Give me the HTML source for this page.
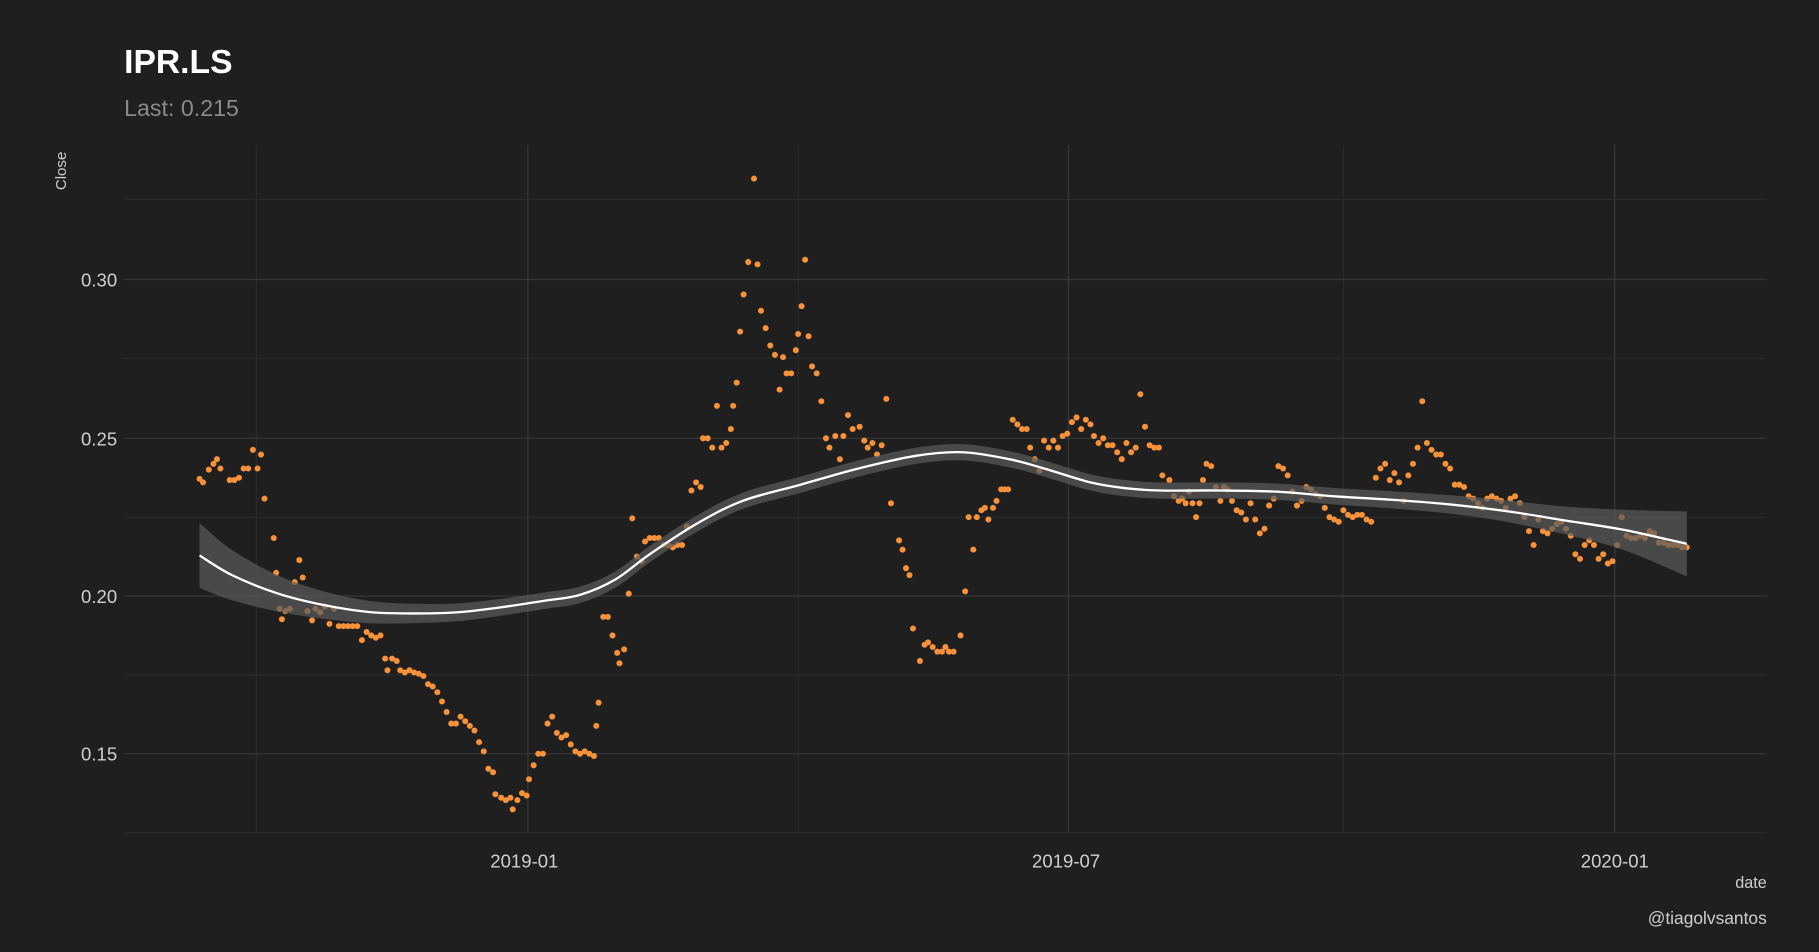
<!DOCTYPE html>
<html><head><meta charset="utf-8"><style>
html,body{margin:0;padding:0;background:#1f1f1f;}
svg{display:block;}
text{font-family:"Liberation Sans",sans-serif;}
</style></head><body>
<svg id="s" width="1819" height="952" viewBox="0 0 1568 821" preserveAspectRatio="none" xmlns="http://www.w3.org/2000/svg">
<rect width="1568" height="821" fill="#1f1f1f"/>
<g stroke="#2b2b2b" stroke-width="1">
<line x1="107" x2="1523" y1="172" y2="172"/><line x1="107" x2="1523" y1="309" y2="309"/>
<line x1="107" x2="1523" y1="446" y2="446"/><line x1="107" x2="1523" y1="582" y2="582"/>
<line x1="107" x2="1523" y1="718" y2="718"/>
<line x1="221" x2="221" y1="125" y2="718"/><line x1="688" x2="688" y1="125" y2="718"/><line x1="1158" x2="1158" y1="125" y2="718"/>
</g>
<g stroke="#353535" stroke-width="1.2">
<line x1="107" x2="1523" y1="241" y2="241"/><line x1="107" x2="1523" y1="378" y2="378"/>
<line x1="107" x2="1523" y1="514" y2="514"/><line x1="107" x2="1523" y1="650" y2="650"/>
<line x1="455" x2="455" y1="125" y2="718"/><line x1="921" x2="921" y1="125" y2="718"/><line x1="1392" x2="1392" y1="125" y2="718"/>
</g>
<g id="pts" fill="#f7923a"></g>
<path id="band" fill="#5a5a5a" fill-opacity="0.72"/>
<path id="sm" fill="none" stroke="#ffffff" stroke-width="2"/>
<g fill="#cfcfcf" font-size="16" text-anchor="end">
<text x="101" y="247">0.30</text><text x="101" y="384">0.25</text>
<text x="101" y="520">0.20</text><text x="101" y="656">0.15</text>
</g>
<g fill="#cfcfcf" font-size="16" text-anchor="middle">
<text x="452" y="748">2019-01</text><text x="919" y="748">2019-07</text><text x="1392" y="748">2020-01</text>
</g>
<text x="1523" y="766" fill="#cfcfcf" font-size="14" text-anchor="end">date</text>
<text x="1523" y="797" fill="#cfcfcf" font-size="15" text-anchor="end">@tiagolvsantos</text>
<text transform="translate(57,164) rotate(-90)" fill="#cfcfcf" font-size="13">Close</text>
<text x="107" y="63" fill="#ffffff" font-size="29" font-weight="bold">IPR.LS</text>
<text x="107" y="100" fill="#8a8a8a" font-size="20">Last: 0.215</text>
</svg>
<script>
var P=[172,413,175,416,180,405,184,400,187,396,190,404,198,414,202,414,206,412,210,404,214,404,218,388,222,404,225,392,228,430,236,464,238,494,241,525,243,534,246,527,250,525,254,502,258,483,261,498,265,527,269,535,272,525,276,528,280,523,284,538,288,525,292,540,296,540,300,540,304,540,308,540,312,552,316,545,320,548,324,550,328,548,332,568,334,578,338,568,342,570,345,578,349,580,353,578,357,580,361,581,365,583,369,590,373,592,377,597,381,605,385,614,389,624,393,624,397,618,401,622,405,626,409,630,413,640,417,648,421,663,425,666,427,685,432,688,436,690,440,688,442,698,446,690,450,684,454,686,456,672,460,660,464,650,468,650,472,624,476,618,480,632,484,636,488,634,492,642,496,648,500,650,504,648,508,650,512,652,514,626,516,606,520,532,524,532,528,548,532,563,534,572,538,560,542,512,545,447,549,480,553,484,556,467,560,464,564,464,568,464,572,470,576,470,580,472,584,470,588,470,592,454,596,423,600,416,604,420,606,378,610,378,614,386,618,350,622,386,626,382,630,370,632,350,635,330,638,286,641,254,645,226,650,154,653,228,656,268,660,283,664,298,668,306,672,336,675,308,678,322,682,322,686,302,688,288,691,264,694,224,697,290,700,316,704,322,708,346,712,378,715,386,720,376,724,396,727,376,731,358,735,370,741,368,745,380,748,386,752,382,756,392,760,384,764,344,768,434,775,466,778,474,781,490,784,496,787,542,793,570,797,556,800,554,804,558,808,562,812,562,815,558,818,562,822,562,828,548,832,510,835,446,839,474,842,446,846,440,849,438,852,448,856,438,859,432,863,422,866,422,869,422,873,362,877,366,881,370,885,370,888,386,892,396,896,406,900,380,904,386,908,380,912,386,916,376,920,374,924,364,928,360,932,370,936,362,940,366,943,376,947,382,951,378,955,384,959,384,963,390,967,396,971,382,975,390,979,386,983,340,987,368,991,384,995,386,999,386,1002,410,1008,414,1012,428,1016,432,1019,430,1022,434,1025,424,1028,434,1031,446,1034,434,1037,414,1040,400,1044,402,1048,420,1052,432,1055,420,1058,422,1062,432,1066,440,1070,442,1074,448,1078,434,1082,448,1086,460,1090,456,1094,436,1098,430,1102,402,1106,404,1110,410,1114,424,1118,436,1122,432,1126,420,1130,422,1134,426,1138,428,1142,438,1146,446,1150,448,1154,450,1158,440,1162,444,1166,446,1170,444,1174,444,1178,448,1182,450,1186,412,1190,404,1194,400,1198,414,1202,408,1206,416,1210,432,1214,410,1218,400,1222,386,1226,346,1230,382,1234,388,1238,392,1242,392,1246,400,1250,404,1254,418,1258,418,1262,420,1266,428,1270,430,1274,434,1278,438,1282,430,1286,428,1290,430,1294,432,1298,438,1302,430,1306,428,1310,434,1314,446,1318,458,1322,470,1326,448,1330,458,1334,460,1338,456,1342,452,1346,450,1350,456,1354,462,1358,478,1362,482,1366,470,1370,466,1374,470,1378,482,1382,478,1386,486,1390,484,1394,470,1398,446,1402,462,1406,464,1410,464,1414,462,1418,464,1422,458,1426,460,1430,468,1434,468,1438,470,1442,470,1446,470,1450,472,1454,472];
var g=document.getElementById('pts'),h='';
for(var i=0;i<P.length;i+=2)h+='<circle cx="'+P[i]+'" cy="'+P[i+1]+'" r="2.6"/>';
g.innerHTML=h;
var S=[172,479,200,496,240,512,280,522,320,528,360,529,395,528,430,524,470,518,500,513,530,500,560,478,600,452,640,432,690,418,740,404,790,393,830,390,870,396,900,404,940,416,970,421,1000,423,1050,423,1100,424,1150,428,1200,431,1250,435,1300,441,1350,449,1400,457,1454,469];
function cr(pts){var d='M'+pts[0][0]+','+pts[0][1];
for(var i=0;i<pts.length-1;i++){var p0=pts[i-1]||pts[i],p1=pts[i],p2=pts[i+1],p3=pts[i+2]||p2;
d+=' C'+(p1[0]+(p2[0]-p0[0])/6)+','+(p1[1]+(p2[1]-p0[1])/6)+' '+(p2[0]-(p3[0]-p1[0])/6)+','+(p2[1]-(p3[1]-p1[1])/6)+' '+p2[0]+','+p2[1];}
return d;}
var line=[],up=[],lo=[];
for(var i=0;i<S.length;i+=2){var x=S[i],y=S[i+1],t=(x-172)/(1454-172),u=(t-0.5)*2,w=7+21*Math.pow(u,8);
line.push([x,y]);up.push([x,y-w]);lo.unshift([x,y+w]);}
document.getElementById('sm').setAttribute('d',cr(line));
var bd=cr(up)+' L'+cr(lo).slice(1)+' Z';
document.getElementById('band').setAttribute('d',bd);
</script>
</body></html>
